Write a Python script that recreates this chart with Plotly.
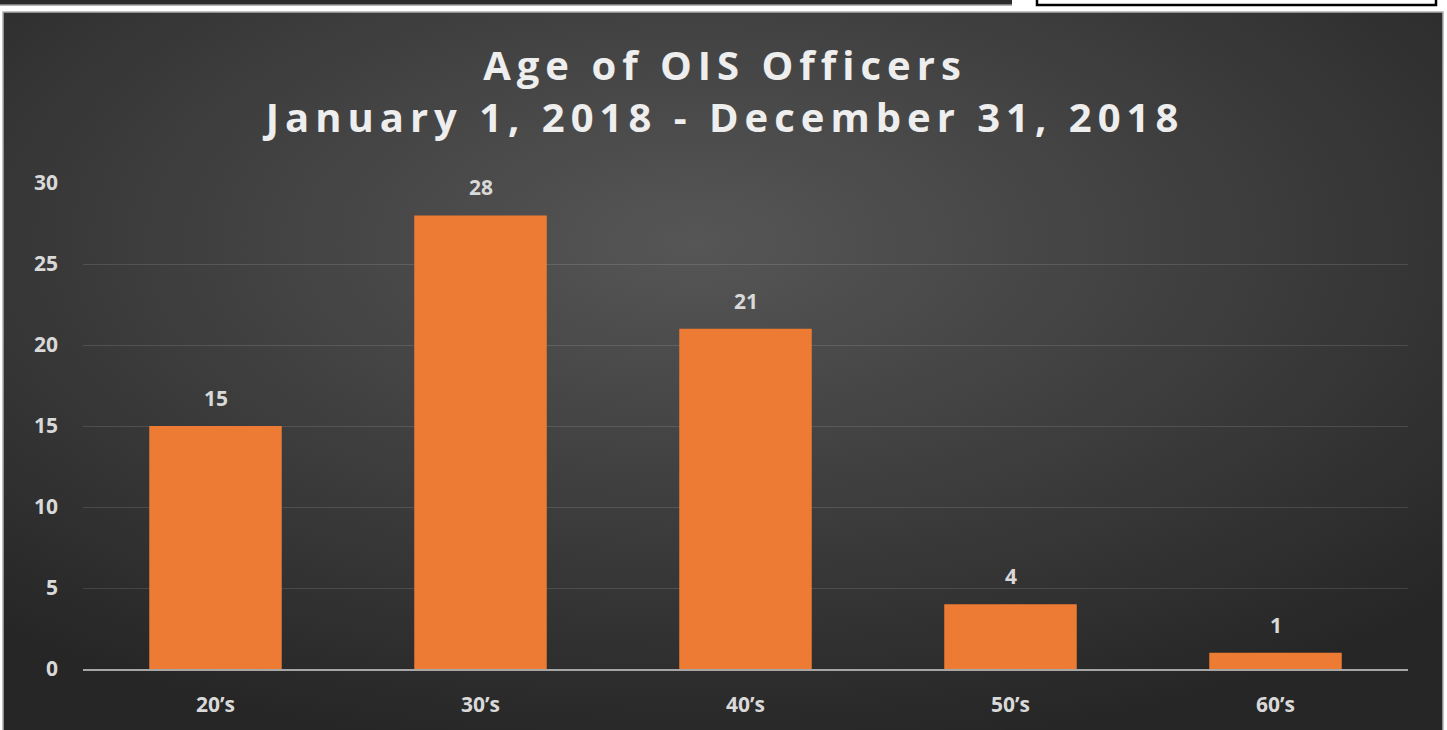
import base64
import plotly.graph_objects as go

categories = ["20’s", "30’s", "40’s", "50’s", "60’s"]
officers = [15, 28, 21, 4, 1]
y_ticks = [0, 5, 10, 15, 20, 25, 30]

W, H = 1447, 730
L, R, T, B = 83, 1408, 183, 669  # plot area in pixels


def px(x):
    return (x - L) / (R - L)


def py(y):
    return (B - y) / (B - T)


svg = (
    '<svg xmlns="http://www.w3.org/2000/svg" width="1440" height="718" '
    'viewBox="0 0 1440 718" preserveAspectRatio="none"><defs>'
    '<radialGradient id="g" cx="0.48" cy="0.32" r="0.72">'
    '<stop offset="0" stop-color="#565656"/>'
    '<stop offset="0.55" stop-color="#3c3c3c"/>'
    '<stop offset="1" stop-color="#262626"/>'
    '</radialGradient></defs>'
    '<rect width="1440" height="718" fill="url(#g)"/></svg>'
)
bg_src = "data:image/svg+xml;base64," + base64.b64encode(svg.encode()).decode()

label_font = dict(family="Open Sans", size=21, color="#d9d9d9", weight="bold")

fig = go.Figure()
fig.add_trace(go.Bar(
    x=categories,
    y=officers,
    width=0.5,
    marker=dict(color="#ee7b33", line=dict(width=0)),
    hoverinfo="x+y",
))

annotations = [
    dict(x=c, y=v, xref="x", yref="y", text=str(v), showarrow=False,
         yanchor="middle", yshift=28, font=label_font)
    for c, v in zip(categories, officers)
]

fig.update_layout(
    width=W,
    height=H,
    margin=dict(l=L, r=W - R, t=T, b=H - B),
    paper_bgcolor="white",
    plot_bgcolor="rgba(0,0,0,0)",
    showlegend=False,
    title=dict(
        text="Age of OIS Officers<br>January 1, 2018 - December 31, 2018",
        x=725 / W,
        xanchor="center",
        y=1 - 80 / H,
        yanchor="middle",
        font=dict(family="Open Sans", size=40, color="#eeeeee", weight="bold"),
    ),
    xaxis=dict(
        showgrid=False,
        showline=True,
        linecolor="#a6a6a6",
        linewidth=2,
        ticks="",
        ticklabelstandoff=16,
        tickfont=label_font,
        zeroline=False,
    ),
    yaxis=dict(
        range=[0, 30],
        tickvals=y_ticks,
        showgrid=True,
        gridcolor="rgba(255,255,255,0.12)",
        gridwidth=1,
        zeroline=False,
        showline=False,
        ticks="",
        ticklabelstandoff=24,
        tickfont=label_font,
    ),
    annotations=annotations,
    images=[dict(
        source=bg_src,
        xref="paper", yref="paper",
        x=px(3), y=py(12),
        sizex=px(1443) - px(3), sizey=py(12) - py(730),
        xanchor="left", yanchor="top",
        sizing="stretch",
        layer="below",
    )],
    shapes=[
        dict(type="rect", xref="paper", yref="paper",
             x0=px(3), x1=px(1443), y0=py(731), y1=py(12),
             line=dict(color="#b0b0b0", width=1.5), fillcolor="rgba(0,0,0,0)",
             layer="above"),
        dict(type="rect", xref="paper", yref="paper",
             x0=px(0), x1=px(1012), y0=py(5), y1=py(-2),
             line=dict(width=0), fillcolor="#2c2c2c", layer="above"),
        dict(type="line", xref="paper", yref="paper",
             x0=px(0), x1=px(1012), y0=py(5), y1=py(5),
             line=dict(color="#9a9a9a", width=1.5), layer="above"),
        dict(type="rect", xref="paper", yref="paper",
             x0=px(1037), x1=px(1436), y0=py(5), y1=py(-5),
             line=dict(color="#000000", width=2.5), fillcolor="white",
             layer="above"),
    ],
)

post = (
    "document.body.style.margin='0';"
    "document.body.style.overflow='hidden';"
    "var s=document.createElement('style');"
    "s.textContent='.gtitle, .gtitle tspan{letter-spacing:6px;}';"
    "document.head.appendChild(s);"
)

fig.write_html("out.html", post_script=post, config={"displayModeBar": False})
